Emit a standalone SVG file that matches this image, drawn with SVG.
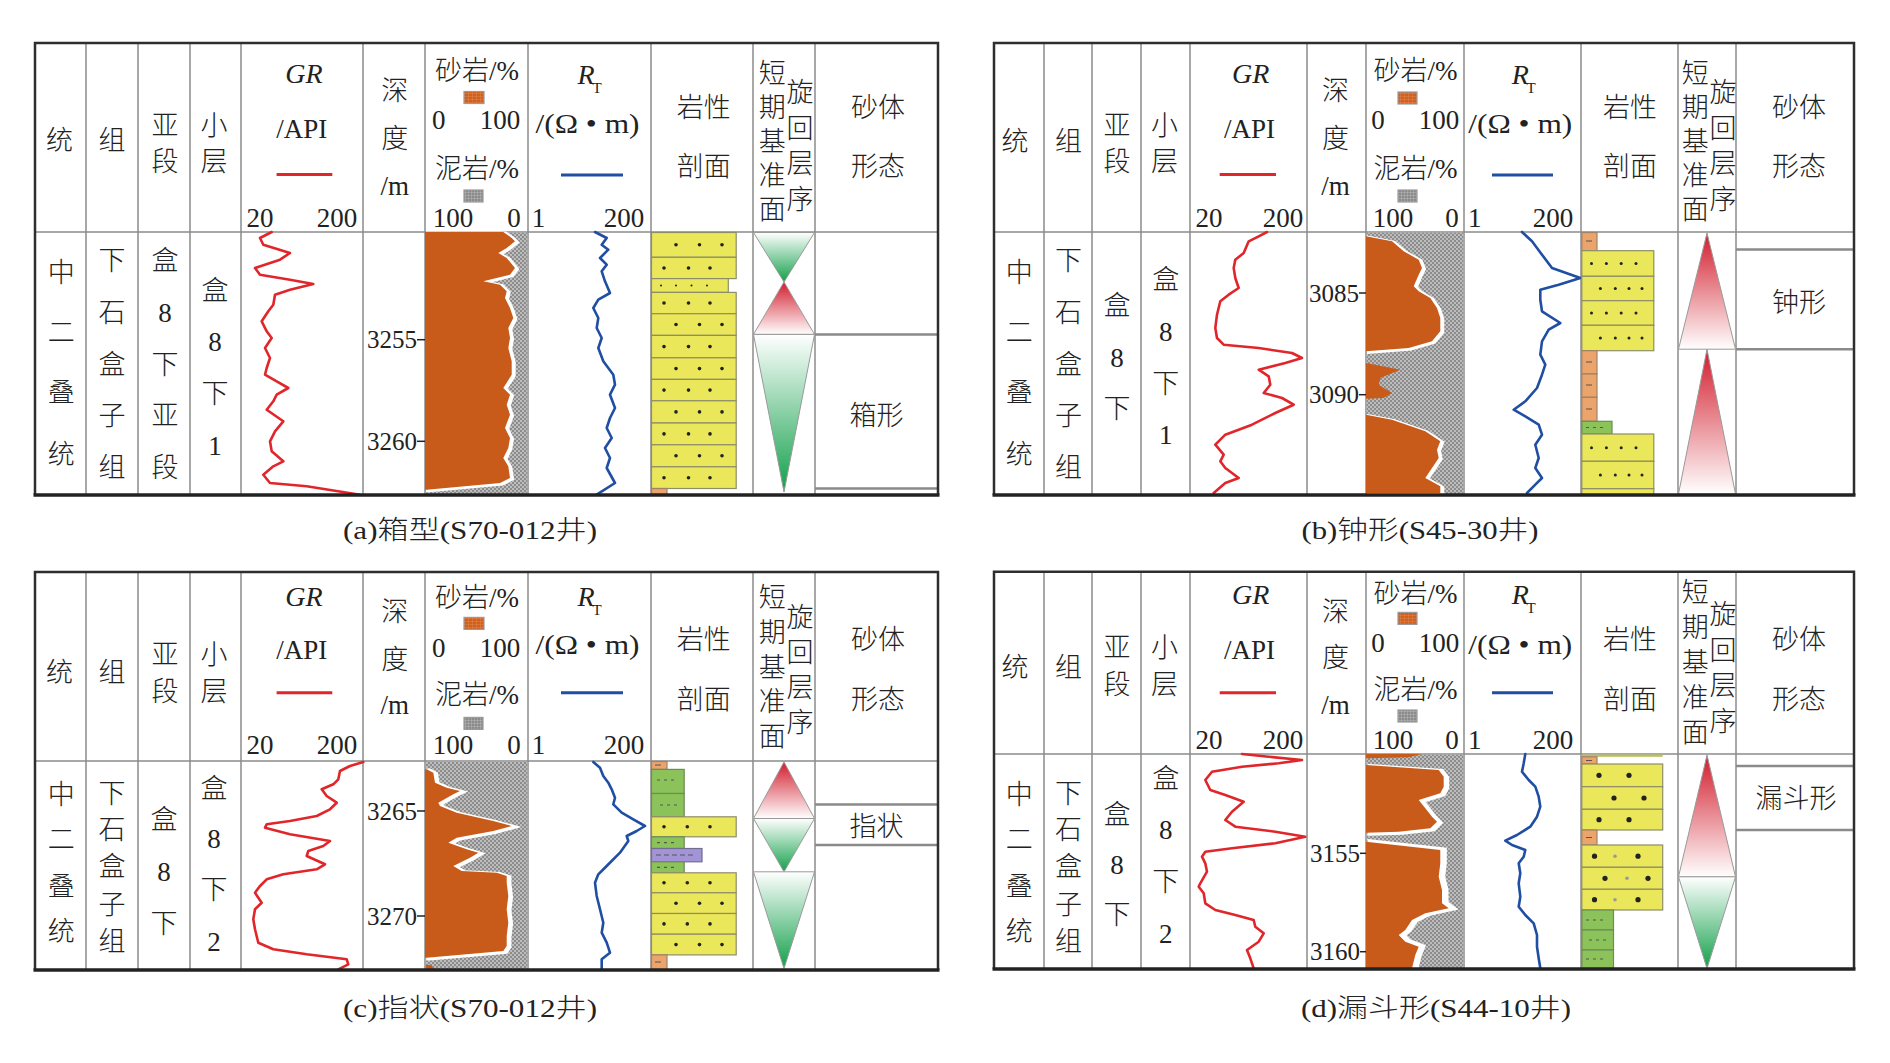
<svg xmlns="http://www.w3.org/2000/svg" xmlns:xlink="http://www.w3.org/1999/xlink" width="1890" height="1063" viewBox="0 0 1890 1063">
<style>
text{font-family:"Liberation Serif","Noto Sans CJK SC",serif;font-size:27px;font-weight:300;fill:#222;text-anchor:middle;dominant-baseline:central}
.it{font-style:italic;font-size:28px}
.sub{font-size:15px}
.dep{font-size:25px;text-anchor:end}
.cap{font-size:26px}
.gl{stroke:#8c8c8c;stroke-width:1.5;fill:none}
.fr{stroke:#2e2e2e;stroke-width:2.5;fill:none}
.fb{stroke:#222;stroke-width:3.5}
.sb{stroke:#8a8a8a;stroke-width:2.5}
.rl{stroke:#e0262a;stroke-width:3}
.bl{stroke:#1f4ea3;stroke-width:3}
.gr{stroke:#e0262a;stroke-width:2.6;fill:none;stroke-linejoin:round;stroke-linecap:round}
.rt{stroke:#1f4ea3;stroke-width:2.6;fill:none;stroke-linejoin:round;stroke-linecap:round}
.tk{stroke:#222;stroke-width:1.5}
.yl{fill:#ebe75a;stroke:#8e8e66;stroke-width:1.2}
.gn{fill:#8cc25a;stroke:#6d8a58;stroke-width:1.2}
.pu{fill:#a294d6;stroke:#6f6f90;stroke-width:1.2}
.om{fill:#eba46b;stroke:#a28264;stroke-width:1.2}
.dt{fill:#222}
.dg{fill:#999}
.mk{stroke:#555;stroke-width:1.2}
.lso{fill:url(#sandp);stroke:#9a9a9a;stroke-width:1.2}
.lsg{fill:url(#mudl);stroke:#9a9a9a;stroke-width:1.2}
.tri{stroke:#9a9a9a;stroke-width:1}
</style>
<defs>
<pattern id="mud" width="4" height="4" patternUnits="userSpaceOnUse"><rect width="4" height="4" fill="#8c8c8c"/><rect width="2" height="2" fill="#bdbdbd"/><rect x="2" y="2" width="2" height="2" fill="#bdbdbd"/></pattern>
<pattern id="sandp" width="4" height="3" patternUnits="userSpaceOnUse"><rect width="4" height="3" fill="#d2601c"/><path d="M0,0H4M0,0V3" stroke="#e39060" stroke-width="0.7"/></pattern>
<pattern id="mudl" width="3" height="3" patternUnits="userSpaceOnUse"><rect width="3" height="3" fill="#8a8a8a"/><path d="M0,0H3M0,0V3" stroke="#c4c4c4" stroke-width="0.8"/></pattern>
<linearGradient id="gDown" x1="0" y1="0" x2="0" y2="1"><stop offset="0" stop-color="#ffffff"/><stop offset="1" stop-color="#12a04a"/></linearGradient>
<linearGradient id="rUp" x1="0" y1="0" x2="0" y2="1"><stop offset="0" stop-color="#d21c2c"/><stop offset="1" stop-color="#ffffff"/></linearGradient>
<polygon id="sa" points="425,232 503.3,232 511.7,238 515,241.3 506.7,248 498.3,253 506.7,258 515,268 510,274.7 483.3,281.3 500,284.7 506.7,291.3 505,298 510,308 513.3,318 508.3,328 510,338 508.3,348 511.7,361.3 511.7,374.7 503.3,388 510,394.7 506.7,404.7 510,414.7 505,428 510,438 508.3,448 503.3,458 508.3,466.3 510,478 500,483 426.7,489.7 425,489.7"/>
<polygon id="sb1" points="1366,236.3 1392,241.3 1403.7,251.3 1418.7,259.7 1422,268 1418.7,274.7 1413.7,286.3 1418.7,291.3 1430.3,298 1437,308 1440.3,318 1440.3,331.3 1432,341.3 1408.7,348 1366,351.3"/>
<polygon id="sb2" points="1366,363 1400.3,369.7 1380.3,378 1378.7,384.7 1392,393 1383.7,398 1366,398.7"/>
<polygon id="sb3" points="1366,414.7 1392,419.7 1425.3,431.3 1440.3,441.3 1437,449.7 1438.7,458 1432,468 1425.3,478 1440.3,486.3 1440.3,493 1366,493"/>
<polygon id="sc" points="425,769.3 426.7,769.3 433.3,772.7 435,782.7 446.7,787.7 460,791 453.3,794.3 438.3,802.7 440,806 456.7,812.7 493.3,821 511.7,826 493.3,831 456.7,837.7 448.3,842.7 466.7,849.3 478.3,852.7 470,857.7 453.3,866 461.7,871 496.7,872.7 506.7,876 506.7,882.7 508.3,896 506.7,909.3 508.3,922.7 506.7,936 506.7,946 503.3,951 426.7,957.7 425,957.7"/>
<polygon id="sd1" points="1366,754 1422,754 1408.7,757.3 1366,758.3"/>
<polygon id="sd2" points="1366,765 1438.7,770 1443.7,776.7 1443.7,786.7 1440.3,793.3 1418.7,800 1425.3,808.3 1432,816.7 1437,821.7 1430.3,828.3 1398.7,831.7 1366,832.7"/>
<polygon id="sd3" points="1366,841.7 1395.3,845 1440.3,850 1440.3,863.3 1438.7,876.7 1442,890 1442,903.3 1448.7,908.3 1425.3,913.3 1412,920 1405.3,930 1398.7,935 1405.3,941.7 1418.7,946.7 1415.3,955 1412,968.3 1366,968.3"/>
</defs>
<rect width="1890" height="1063" fill="#ffffff"/>

<!-- ===================== PANEL A ===================== -->
<g id="panel-a">
<g id="a-grid">
<path class="gl" d="M86,43V495M138,43V495M190,43V495M241,43V495M363,43V495M425,43V495M528,43V495M651,43V495M753,43V495M815,43V495M35,232H938"/>
</g>
<g id="a-header">
<text x="59.4" y="141">统</text><text x="112" y="141">组</text>
<text x="165" y="125.6">亚</text><text x="165" y="161.7">段</text>
<text x="214" y="125.6">小</text><text x="214" y="161.7">层</text>
<text class="it" x="304" y="73">GR</text><text x="301.7" y="129">/API</text>
<line class="rl" x1="276.6" y1="174.4" x2="332.3" y2="174.4"/>
<text x="260" y="218.4">20</text><text x="337" y="218.4">200</text>
<text x="394.7" y="91">深</text><text x="394.7" y="139">度</text><text x="394.7" y="186">/m</text>
<text x="477" y="70.5">砂岩/%</text><rect class="lso" x="464" y="91.5" width="20" height="12"/>
<text x="438.8" y="120.4">0</text><text x="500" y="120.4">100</text>
<text x="477" y="168.6">泥岩/%</text><rect class="lsg" x="464" y="190" width="19" height="12"/>
<text x="453" y="218.4">100</text><text x="514" y="218.4">0</text>
<text class="it" x="586" y="74">R</text><text class="sub" x="597" y="87.5">T</text>
<text x="587.5" y="123.5" textLength="104" lengthAdjust="spacingAndGlyphs">/(Ω • m)</text>
<line class="bl" x1="561" y1="175" x2="623" y2="175"/>
<text x="538.6" y="218">1</text><text x="624" y="218">200</text>
<text x="703.8" y="108.4">岩性</text><text x="703.8" y="166.8">剖面</text>
<text x="772.3" y="74">短</text><text x="772.3" y="108">期</text><text x="772.3" y="142">基</text><text x="772.3" y="176">准</text><text x="772.3" y="210">面</text>
<text x="800" y="93">旋</text><text x="800" y="128.5">回</text><text x="800" y="164">层</text><text x="800" y="199.5">序</text>
<text x="878" y="108.4">砂体</text><text x="878" y="166.8">形态</text>
</g>
<g id="a-strata">
<text x="61.2" y="273">中</text><text x="61.2" y="333">二</text><text x="61.2" y="393">叠</text><text x="61.2" y="455">统</text>
<text x="112" y="261">下</text><text x="112" y="312.5">石</text><text x="112" y="364.5">盒</text><text x="112" y="416">子</text><text x="112" y="467.5">组</text>
<text x="165" y="261.4">盒</text><text x="165" y="313">8</text><text x="165" y="364.6">下</text><text x="165" y="416">亚</text><text x="165" y="468">段</text>
<text x="215" y="290.5">盒</text><text x="215" y="341.7">8</text><text x="215" y="393.5">下</text><text x="215" y="445.5">1</text>
</g>
<g id="a-logs">
<polyline class="gr" points="271.7,232 260,238 263.3,244.7 290,253 280,259.7 255,268 260,274.7 290,279.7 313.3,284 290,289.7 275,294.7 273.3,304.7 268.3,311.3 261.7,321.3 266.7,331.3 271.7,338 265,348 270,358 266.7,368 265,374.7 276.7,381.3 288.3,388 276.7,394.7 273.3,401.3 266.7,409.7 283.3,421.3 275,431.3 270,441.3 271.7,451.3 283.3,461.3 273.3,466.3 263.3,474.7 270,483 306.7,486.3 360,494.7"/>
<text class="dep" x="417" y="339.7">3255</text><line class="tk" x1="417" y1="339.7" x2="425" y2="339.7"/>
<text class="dep" x="417" y="441.3">3260</text><line class="tk" x1="417" y1="441.3" x2="425" y2="441.3"/>
<rect x="425.8" y="232.8" width="101.4" height="261.4" fill="url(#mud)"/>
<use xlink:href="#sa" fill="#ffffff" stroke="#ffffff" stroke-width="3" transform="translate(2.5,1)"/>
<use xlink:href="#sa" fill="#c85a1a"/>
<polyline class="rt" points="595,232 606.7,238 601.7,244.7 608.3,249.7 600,258 606.7,264.7 601.7,271.3 605,281.3 610,293 598.3,299.7 593.3,308 598.3,318 596.7,328 601.7,338 598.3,348 603.3,361.3 613.3,374.7 615,384.7 610,394.7 615,408 610,418 606.7,428 611.7,438 605,448 610,458 606.7,468 615,483 596.7,494.7"/>
</g>
<g id="a-litho">
<rect class="yl" x="651.5" y="232.5" width="84.7" height="24.8"/>
<rect class="yl" x="651.5" y="257.3" width="84.7" height="21.3"/>
<rect class="yl" x="651.5" y="278.6" width="76.8" height="13.8"/>
<rect class="yl" x="651.5" y="292.4" width="84.7" height="21.3"/>
<rect class="yl" x="651.5" y="313.7" width="84.7" height="21.7"/>
<rect class="yl" x="651.5" y="335.4" width="84.7" height="22.4"/>
<rect class="yl" x="651.5" y="357.8" width="84.7" height="21.6"/>
<rect class="yl" x="651.5" y="379.4" width="84.7" height="21.4"/>
<rect class="yl" x="651.5" y="400.8" width="84.7" height="22.2"/>
<rect class="yl" x="651.5" y="423" width="84.7" height="21.8"/>
<rect class="yl" x="651.5" y="444.8" width="84.7" height="22"/>
<rect class="yl" x="651.5" y="466.8" width="84.7" height="21.7"/>
<rect class="om" x="651.5" y="488.5" width="15.5" height="6"/>
<g class="dt">
<circle cx="676" cy="244.7" r="1.8"/><circle cx="699.5" cy="244.7" r="1.8"/><circle cx="722" cy="244.7" r="1.8"/>
<circle cx="664" cy="268" r="1.8"/><circle cx="688.5" cy="268" r="1.8"/><circle cx="710" cy="268" r="1.8"/>
<circle cx="661" cy="285.5" r="1"/><circle cx="676" cy="285.5" r="1"/><circle cx="691.5" cy="285.5" r="1"/><circle cx="707" cy="285.5" r="1"/>
<circle cx="664" cy="303" r="1.8"/><circle cx="688.5" cy="303" r="1.8"/><circle cx="710" cy="303" r="1.8"/>
<circle cx="676" cy="324.5" r="1.8"/><circle cx="699.5" cy="324.5" r="1.8"/><circle cx="722" cy="324.5" r="1.8"/>
<circle cx="664" cy="346.6" r="1.8"/><circle cx="688.5" cy="346.6" r="1.8"/><circle cx="710" cy="346.6" r="1.8"/>
<circle cx="676" cy="368.6" r="1.8"/><circle cx="699.5" cy="368.6" r="1.8"/><circle cx="722" cy="368.6" r="1.8"/>
<circle cx="664" cy="390.1" r="1.8"/><circle cx="688.5" cy="390.1" r="1.8"/><circle cx="710" cy="390.1" r="1.8"/>
<circle cx="676" cy="411.9" r="1.8"/><circle cx="699.5" cy="411.9" r="1.8"/><circle cx="722" cy="411.9" r="1.8"/>
<circle cx="664" cy="433.9" r="1.8"/><circle cx="688.5" cy="433.9" r="1.8"/><circle cx="710" cy="433.9" r="1.8"/>
<circle cx="676" cy="455.8" r="1.8"/><circle cx="699.5" cy="455.8" r="1.8"/><circle cx="722" cy="455.8" r="1.8"/>
<circle cx="664" cy="477.7" r="1.8"/><circle cx="688.5" cy="477.7" r="1.8"/><circle cx="710" cy="477.7" r="1.8"/>
</g>
</g>
<g id="a-cycle">
<polygon class="tri" points="753.5,232.5 814.5,232.5 784,282" fill="url(#gDown)"/>
<polygon class="tri" points="784,282 814.5,334.4 753.5,334.4" fill="url(#rUp)"/>
<polygon class="tri" points="753.5,334.4 814.5,334.4 784,492" fill="url(#gDown)"/>
</g>
<g id="a-shape">
<line class="sb" x1="815" y1="334.4" x2="938" y2="334.4"/>
<line class="sb" x1="815" y1="488.5" x2="938" y2="488.5"/>
<text x="876.4" y="416.2">箱形</text>
</g>
<g id="a-frame">
<path class="fr" d="M35,495V43H938V495"/>
<line class="fb" x1="33.5" y1="495" x2="939.5" y2="495"/>
</g>
<text class="cap" x="470" y="530" textLength="254" lengthAdjust="spacingAndGlyphs">(a)箱型(S70-012井)</text>
</g>

<!-- ===================== PANEL B ===================== -->
<g id="panel-b">
<g id="b-grid">
<path class="gl" d="M1044,43V495M1092,43V495M1141,43V495M1190,43V495M1307,43V495M1366,43V495M1464,43V495M1581,43V495M1678,43V495M1736,43V495M994,232H1854"/>
</g>
<g id="b-header">
<text x="1015" y="142">统</text><text x="1068.5" y="142">组</text>
<text x="1117" y="125.6">亚</text><text x="1117" y="161.7">段</text>
<text x="1164.6" y="125.6">小</text><text x="1164.6" y="161.7">层</text>
<text class="it" x="1250.6" y="73">GR</text><text x="1249.4" y="129">/API</text>
<line class="rl" x1="1219.7" y1="174.4" x2="1276" y2="174.4"/>
<text x="1209" y="218.4">20</text><text x="1283" y="218.4">200</text>
<text x="1335.4" y="91">深</text><text x="1335.4" y="139">度</text><text x="1335.4" y="186">/m</text>
<text x="1415.4" y="70.5">砂岩/%</text><rect class="lso" x="1398" y="92" width="19" height="12"/>
<text x="1378" y="120.4">0</text><text x="1439" y="120.4">100</text>
<text x="1415.4" y="168.6">泥岩/%</text><rect class="lsg" x="1398" y="190" width="19" height="12"/>
<text x="1393" y="218.4">100</text><text x="1452" y="218.4">0</text>
<text class="it" x="1520.4" y="74">R</text><text class="sub" x="1531" y="87.5">T</text>
<text x="1520.3" y="123.5" textLength="104" lengthAdjust="spacingAndGlyphs">/(Ω • m)</text>
<line class="bl" x1="1492" y1="175" x2="1553" y2="175"/>
<text x="1474.7" y="218">1</text><text x="1553" y="218">200</text>
<text x="1630" y="108.4">岩性</text><text x="1630" y="166.8">剖面</text>
<text x="1695.3" y="74">短</text><text x="1695.3" y="108">期</text><text x="1695.3" y="142">基</text><text x="1695.3" y="176">准</text><text x="1695.3" y="210">面</text>
<text x="1723" y="93">旋</text><text x="1723" y="128.5">回</text><text x="1723" y="164">层</text><text x="1723" y="199.5">序</text>
<text x="1799" y="108.4">砂体</text><text x="1799" y="166.8">形态</text>
</g>
<g id="b-strata">
<text x="1019.3" y="273">中</text><text x="1019.3" y="333">二</text><text x="1019.3" y="393">叠</text><text x="1019.3" y="455">统</text>
<text x="1068.5" y="261">下</text><text x="1068.5" y="312.5">石</text><text x="1068.5" y="364.5">盒</text><text x="1068.5" y="416">子</text><text x="1068.5" y="467.5">组</text>
<text x="1117" y="306">盒</text><text x="1117" y="357.8">8</text><text x="1117" y="409.4">下</text>
<text x="1165.8" y="280.4">盒</text><text x="1165.8" y="332">8</text><text x="1165.8" y="383.6">下</text><text x="1165.8" y="435">1</text>
</g>
<g id="b-logs">
<polyline class="gr" points="1267,232 1258.7,236.3 1248.7,241.3 1243.7,253 1235.3,259.7 1233.7,268 1235.3,278 1238.7,288 1228.7,294.7 1220.3,301.3 1217,314.7 1215.3,328 1217,338 1223.7,344.7 1258.7,348 1292,353 1302,358 1285.3,363 1258.7,369.7 1268.7,376.3 1270.3,384.7 1263.7,393 1282,398 1293.7,404.7 1275.3,413 1252,424.7 1225.3,434.7 1215.3,444.7 1223.7,454.7 1220.3,461.3 1225.3,468 1238.7,478 1225.3,483 1213.7,493"/>
<text class="dep" x="1359" y="293">3085</text><line class="tk" x1="1359" y1="293" x2="1366" y2="293"/>
<text class="dep" x="1359" y="394.7">3090</text><line class="tk" x1="1359" y1="394.7" x2="1366" y2="394.7"/>
<rect x="1366.8" y="232.8" width="96.4" height="261.4" fill="url(#mud)"/>
<use xlink:href="#sb1" fill="#ffffff" stroke="#ffffff" stroke-width="3" transform="translate(2.5,1)"/>
<use xlink:href="#sb3" fill="#ffffff" stroke="#ffffff" stroke-width="3" transform="translate(2.5,1)"/>
<use xlink:href="#sb1" fill="#c85a1a"/>
<use xlink:href="#sb2" fill="#c85a1a"/>
<use xlink:href="#sb3" fill="#c85a1a"/>
<polyline class="rt" points="1522,232 1532,241.3 1542,254.7 1552,268 1580.3,278 1558.7,284.7 1540.3,289.7 1540.3,299.7 1542,311.3 1560.3,323 1548.7,329.7 1542,341.3 1540.3,354.7 1545.3,364.7 1542,374.7 1537,388 1525.3,401.3 1513.7,409.7 1525.3,416.3 1538.7,424.7 1542,434.7 1535.3,444.7 1538.7,458 1535.3,468 1542,478 1535.3,484.7 1527,493"/>
</g>
<g id="b-litho">
<rect class="om" x="1581.8" y="232.5" width="15.2" height="18.2"/>
<rect class="yl" x="1581.8" y="250.7" width="72" height="25.6"/>
<rect class="yl" x="1581.8" y="276.3" width="72" height="24.4"/>
<rect class="yl" x="1581.8" y="300.7" width="72" height="24.6"/>
<rect class="yl" x="1581.8" y="325.3" width="72" height="25.4"/>
<rect class="om" x="1581.8" y="350.7" width="15.2" height="23.3"/>
<rect class="om" x="1581.8" y="374" width="15.2" height="23.3"/>
<rect class="om" x="1581.8" y="397.3" width="15.2" height="24"/>
<rect class="gn" x="1581.8" y="421.3" width="30.2" height="12.7"/>
<rect class="yl" x="1581.8" y="434" width="72" height="27.3"/>
<rect class="yl" x="1581.8" y="461.3" width="72" height="27.4"/>
<rect class="yl" x="1581.8" y="488.7" width="72" height="6"/>
<path class="mk" d="M1586,241H1592M1586,362H1592M1586,385H1592M1586,409H1592M1586,427.5H1589M1593,427.5H1596M1600,427.5H1603"/>
<g class="dt">
<circle cx="1591.5" cy="263.5" r="1.5"/><circle cx="1606.4" cy="263.5" r="1.5"/><circle cx="1621.2" cy="263.5" r="1.5"/><circle cx="1636" cy="263.5" r="1.5"/>
<circle cx="1600.4" cy="288.5" r="1.5"/><circle cx="1615.3" cy="288.5" r="1.5"/><circle cx="1629" cy="288.5" r="1.5"/><circle cx="1642" cy="288.5" r="1.5"/>
<circle cx="1591.5" cy="313" r="1.5"/><circle cx="1606.4" cy="313" r="1.5"/><circle cx="1621.2" cy="313" r="1.5"/><circle cx="1636" cy="313" r="1.5"/>
<circle cx="1600.4" cy="338" r="1.5"/><circle cx="1615.3" cy="338" r="1.5"/><circle cx="1629" cy="338" r="1.5"/><circle cx="1642" cy="338" r="1.5"/>
<circle cx="1591.5" cy="447.7" r="1.5"/><circle cx="1606.4" cy="447.7" r="1.5"/><circle cx="1621.2" cy="447.7" r="1.5"/><circle cx="1636" cy="447.7" r="1.5"/>
<circle cx="1600.4" cy="475" r="1.5"/><circle cx="1615.3" cy="475" r="1.5"/><circle cx="1629" cy="475" r="1.5"/><circle cx="1642" cy="475" r="1.5"/>
</g>
</g>
<g id="b-cycle">
<polygon class="tri" points="1707,233 1735.5,349.2 1678.5,349.2" fill="url(#rUp)"/>
<polygon class="tri" points="1707,349.2 1735.5,494 1678.5,494" fill="url(#rUp)"/>
</g>
<g id="b-shape">
<line class="sb" x1="1736" y1="249.4" x2="1854" y2="249.4"/>
<line class="sb" x1="1736" y1="349.2" x2="1854" y2="349.2"/>
<text x="1799" y="302.7">钟形</text>
</g>
<g id="b-frame">
<path class="fr" d="M994,495V43H1854V495"/>
<line class="fb" x1="992.5" y1="495" x2="1855.5" y2="495"/>
</g>
<text class="cap" x="1420" y="530" textLength="237" lengthAdjust="spacingAndGlyphs">(b)钟形(S45-30井)</text>
</g>

<!-- ===================== PANEL C ===================== -->
<g id="panel-c">
<g id="c-grid">
<path class="gl" d="M86,572V970M138,572V970M190,572V970M241,572V970M363,572V970M425,572V970M528,572V970M651,572V970M753,572V970M815,572V970M35,761H938"/>
</g>
<g id="c-header">
<text x="59.4" y="673.4">统</text><text x="112" y="673.4">组</text>
<text x="165" y="655">亚</text><text x="165" y="691.7">段</text>
<text x="214" y="655">小</text><text x="214" y="691.7">层</text>
<text class="it" x="304" y="596">GR</text><text x="301.7" y="650">/API</text>
<line class="rl" x1="276.6" y1="692.7" x2="332.3" y2="692.7"/>
<text x="260" y="745">20</text><text x="337" y="745">200</text>
<text x="394.7" y="611.7">深</text><text x="394.7" y="660">度</text><text x="394.7" y="705">/m</text>
<text x="477" y="598.4">砂岩/%</text><rect class="lso" x="464" y="617.4" width="20" height="12"/>
<text x="438.8" y="648.4">0</text><text x="500" y="648.4">100</text>
<text x="477" y="695">泥岩/%</text><rect class="lsg" x="464" y="717.4" width="19" height="12"/>
<text x="453" y="745">100</text><text x="514" y="745">0</text>
<text class="it" x="586" y="596">R</text><text class="sub" x="597" y="609.5">T</text>
<text x="587.5" y="645" textLength="104" lengthAdjust="spacingAndGlyphs">/(Ω • m)</text>
<line class="bl" x1="561" y1="692.7" x2="623" y2="692.7"/>
<text x="538.6" y="745">1</text><text x="624" y="745">200</text>
<text x="703.8" y="640">岩性</text><text x="703.8" y="700">剖面</text>
<text x="772.3" y="598.4">短</text><text x="772.3" y="633">期</text><text x="772.3" y="667.6">基</text><text x="772.3" y="702.2">准</text><text x="772.3" y="736.8">面</text>
<text x="800" y="618.4">旋</text><text x="800" y="653.4">回</text><text x="800" y="688.4">层</text><text x="800" y="723.4">序</text>
<text x="878" y="640">砂体</text><text x="878" y="700">形态</text>
</g>
<g id="c-strata">
<text x="61.2" y="795">中</text><text x="61.2" y="840">二</text><text x="61.2" y="886.8">叠</text><text x="61.2" y="931.9">统</text>
<text x="112" y="793.5">下</text><text x="112" y="830">石</text><text x="112" y="866.8">盒</text><text x="112" y="905">子</text><text x="112" y="941.9">组</text>
<text x="164" y="820">盒</text><text x="164" y="871.8">8</text><text x="164" y="923.5">下</text>
<text x="214" y="788.5">盒</text><text x="214" y="838.5">8</text><text x="214" y="890">下</text><text x="214" y="941.9">2</text>
</g>
<g id="c-logs">
<polyline class="gr" points="363.3,762 350,766 340,771 338.3,779.3 333.3,784.3 321.7,789.3 326.7,796 336.7,802.7 330,809.3 316.7,816 290,821 266.7,824.3 265,827.7 290,834.3 330,841 323.3,846 308.3,851 306.7,856 325,864.3 316.7,869.3 283.3,874.3 266.7,879.3 260,886 255,892.7 258.3,897.7 261.7,902.7 255,909.3 253.3,919.3 255,929.3 258.3,942.7 273.3,949.3 306.7,954.3 346.7,959.3 348.3,964.3 338.3,969.3"/>
<text class="dep" x="417" y="811">3265</text><line class="tk" x1="417" y1="811" x2="425" y2="811"/>
<text class="dep" x="417" y="916">3270</text><line class="tk" x1="417" y1="916" x2="425" y2="916"/>
<rect x="425.8" y="761.8" width="101.4" height="207.4" fill="url(#mud)"/>
<use xlink:href="#sc" fill="#ffffff" stroke="#ffffff" stroke-width="3.5" transform="translate(3,1)"/>
<use xlink:href="#sc" fill="#c85a1a"/>
<polygon points="425.8,965 431,965 434,969 425.8,969" fill="#c85a1a"/>
<polyline class="rt" points="593.3,762 600,767.7 603.3,776 608.3,782.7 611.7,789.3 615,797.7 613.3,804.3 621.7,812.7 633.3,819.3 645,826 636.7,831 626.7,836 628.3,841 620,852.7 606.7,866 598.3,874.3 595,882.7 596.7,896 600,909.3 603.3,922.7 601.7,932.7 606.7,942.7 610,952.7 601.7,959.3 601.7,969.3"/>
</g>
<g id="c-litho">
<rect class="om" x="651.5" y="761.5" width="15.5" height="7.9"/>
<rect class="gn" x="651.5" y="769.4" width="32.7" height="24.1"/>
<rect class="gn" x="651.5" y="793.5" width="32.7" height="23.3"/>
<rect class="yl" x="651.5" y="816.8" width="84.7" height="20"/>
<rect class="gn" x="651.5" y="836.8" width="32.7" height="11.7"/>
<rect class="pu" x="651.5" y="848.5" width="50.5" height="13.3"/>
<rect class="gn" x="651.5" y="861.8" width="32.7" height="11"/>
<rect class="yl" x="651.5" y="872.8" width="84.7" height="20"/>
<rect class="yl" x="651.5" y="892.8" width="84.7" height="20.7"/>
<rect class="yl" x="651.5" y="913.5" width="84.7" height="20.7"/>
<rect class="yl" x="651.5" y="934.2" width="84.7" height="20.7"/>
<rect class="om" x="651.5" y="954.9" width="15.5" height="15"/>
<path class="mk" d="M657,780H660M664,780H667M671,780H674M660,805H663M667,805H670M674,805H677M657,842.6H660M664,842.6H667M671,842.6H674M656,855H661M664,855H669M672,855H677M680,855H685M688,855H693M657,867.3H660M664,867.3H667M671,867.3H674M655,765H661M655,962H661"/>
<g class="dt">
<circle cx="664" cy="826.8" r="1.8"/><circle cx="687.3" cy="826.8" r="1.8"/><circle cx="710" cy="826.8" r="1.8"/>
<circle cx="664" cy="882.8" r="1.8"/><circle cx="687.3" cy="882.8" r="1.8"/><circle cx="710" cy="882.8" r="1.8"/>
<circle cx="676" cy="903.2" r="1.8"/><circle cx="699.5" cy="903.2" r="1.8"/><circle cx="722" cy="903.2" r="1.8"/>
<circle cx="664" cy="923.9" r="1.8"/><circle cx="687.3" cy="923.9" r="1.8"/><circle cx="710" cy="923.9" r="1.8"/>
<circle cx="676" cy="944.6" r="1.8"/><circle cx="699.5" cy="944.6" r="1.8"/><circle cx="722" cy="944.6" r="1.8"/>
</g>
</g>
<g id="c-cycle">
<polygon class="tri" points="784,762 814.5,818.5 753.5,818.5" fill="url(#rUp)"/>
<polygon class="tri" points="753.5,818.5 814.5,818.5 784,871.8" fill="url(#gDown)"/>
<polygon class="tri" points="753.5,871.8 814.5,871.8 784,968.5" fill="url(#gDown)"/>
</g>
<g id="c-shape">
<line class="sb" x1="815" y1="804.5" x2="938" y2="804.5"/>
<line class="sb" x1="815" y1="845" x2="938" y2="845"/>
<text x="876.4" y="826.8">指状</text>
</g>
<g id="c-frame">
<path class="fr" d="M35,970V572H938V970"/>
<line class="fb" x1="33.5" y1="970" x2="939.5" y2="970"/>
</g>
<text class="cap" x="470" y="1008.6" textLength="254" lengthAdjust="spacingAndGlyphs">(c)指状(S70-012井)</text>
</g>

<!-- ===================== PANEL D ===================== -->
<g id="panel-d">
<g id="d-grid">
<path class="gl" d="M1044,571.7V969M1092,571.7V969M1141,571.7V969M1190,571.7V969M1307,571.7V969M1366,571.7V969M1464,571.7V969M1581,571.7V969M1678,571.7V969M1736,571.7V969M994,754H1854"/>
</g>
<g id="d-header">
<text x="1015" y="668.4">统</text><text x="1068.5" y="668.4">组</text>
<text x="1117" y="648.4">亚</text><text x="1117" y="685">段</text>
<text x="1164.6" y="648.4">小</text><text x="1164.6" y="685">层</text>
<text class="it" x="1250.6" y="594">GR</text><text x="1249.4" y="650">/API</text>
<line class="rl" x1="1219.7" y1="692.7" x2="1276" y2="692.7"/>
<text x="1209" y="740">20</text><text x="1283" y="740">200</text>
<text x="1335.4" y="611.7">深</text><text x="1335.4" y="658.4">度</text><text x="1335.4" y="705">/m</text>
<text x="1415.4" y="594">砂岩/%</text><rect class="lso" x="1398" y="612.4" width="19" height="12"/>
<text x="1378" y="643">0</text><text x="1439" y="643">100</text>
<text x="1415.4" y="690">泥岩/%</text><rect class="lsg" x="1398" y="710" width="19" height="12"/>
<text x="1393" y="740">100</text><text x="1452" y="740">0</text>
<text class="it" x="1520.4" y="594">R</text><text class="sub" x="1531" y="607.5">T</text>
<text x="1520.3" y="645" textLength="104" lengthAdjust="spacingAndGlyphs">/(Ω • m)</text>
<line class="bl" x1="1492" y1="692.7" x2="1553" y2="692.7"/>
<text x="1474.7" y="740">1</text><text x="1553" y="740">200</text>
<text x="1630" y="640">岩性</text><text x="1630" y="700">剖面</text>
<text x="1695.3" y="593.4">短</text><text x="1695.3" y="628.4">期</text><text x="1695.3" y="663.4">基</text><text x="1695.3" y="698.4">准</text><text x="1695.3" y="733.4">面</text>
<text x="1723" y="615">旋</text><text x="1723" y="650.6">回</text><text x="1723" y="686.2">层</text><text x="1723" y="721.8">序</text>
<text x="1799" y="640">砂体</text><text x="1799" y="700">形态</text>
</g>
<g id="d-strata">
<text x="1019.3" y="795">中</text><text x="1019.3" y="840">二</text><text x="1019.3" y="886.8">叠</text><text x="1019.3" y="931.9">统</text>
<text x="1068.5" y="793.5">下</text><text x="1068.5" y="830">石</text><text x="1068.5" y="866.8">盒</text><text x="1068.5" y="905">子</text><text x="1068.5" y="941.9">组</text>
<text x="1117" y="815">盒</text><text x="1117" y="865">8</text><text x="1117" y="915">下</text>
<text x="1165.8" y="778.5">盒</text><text x="1165.8" y="830">8</text><text x="1165.8" y="881.8">下</text><text x="1165.8" y="933.5">2</text>
</g>
<g id="d-logs">
<polyline class="gr" points="1242,754 1268.7,756.7 1302,760 1278.7,763.3 1242,766.7 1212,771.7 1205.3,780 1210.3,790 1225.3,795 1243.7,801.7 1232,811.7 1225.3,820 1235.3,826.7 1275.3,831.7 1305.3,836.7 1275.3,843.3 1232,848.3 1205.3,851.7 1202,856.7 1205.3,863.3 1207,871.7 1200.3,883.3 1198.7,886.7 1203.7,893.3 1205.3,903.3 1215.3,910 1235.3,915 1253.7,920 1255.3,926.7 1263.7,933.3 1258.7,941.7 1247,950 1250.3,958.3 1253.7,968.3"/>
<text class="dep" x="1360" y="853.3">3155</text><line class="tk" x1="1360" y1="853.3" x2="1366" y2="853.3"/>
<text class="dep" x="1360" y="951.7">3160</text><line class="tk" x1="1360" y1="951.7" x2="1366" y2="951.7"/>
<rect x="1366.8" y="754.8" width="96.4" height="213.4" fill="url(#mud)"/>
<use xlink:href="#sd2" fill="#ffffff" stroke="#ffffff" stroke-width="4" transform="translate(3.5,1)"/>
<use xlink:href="#sd3" fill="#ffffff" stroke="#ffffff" stroke-width="5" transform="translate(4,0)"/>
<use xlink:href="#sd1" fill="#c85a1a"/>
<use xlink:href="#sd2" fill="#c85a1a"/>
<use xlink:href="#sd3" fill="#c85a1a"/>
<polyline class="rt" points="1525.3,754 1523.7,763.3 1522,771.7 1528.7,780 1535.3,786.7 1538.7,796.7 1540.3,806.7 1537,816.7 1530.3,826.7 1517,835 1505.3,840.7 1512,845 1525.3,850 1523.7,856.7 1518.7,863.3 1520.3,873.3 1518.7,883.3 1520.3,896.7 1518.7,906.7 1525.3,915 1533.7,923.3 1537,935 1537,946.7 1538.7,958.3 1540.3,968.3"/>
</g>
<g id="d-litho">
<rect x="1581.8" y="754.6" width="80.9" height="2.2" fill="#b8c450"/>
<rect class="om" x="1581.8" y="756.8" width="15.2" height="7.2"/>
<rect class="yl" x="1581.8" y="764" width="80.9" height="22.7"/>
<rect class="yl" x="1581.8" y="786.7" width="80.9" height="22.6"/>
<rect class="yl" x="1581.8" y="809.3" width="80.9" height="20.7"/>
<rect class="om" x="1581.8" y="830" width="15.2" height="15"/>
<rect class="yl" x="1581.8" y="845" width="80.9" height="22.3"/>
<rect class="yl" x="1581.8" y="867.3" width="80.9" height="22"/>
<rect class="yl" x="1581.8" y="889.3" width="80.9" height="20.7"/>
<rect class="gn" x="1581.8" y="910" width="31.7" height="20"/>
<rect class="gn" x="1581.8" y="930" width="31.7" height="20"/>
<rect class="gn" x="1581.8" y="950" width="31.7" height="18.5"/>
<path class="mk" d="M1586,760.5H1592M1586,837.5H1592M1586,920H1589M1593,920H1596M1600,920H1603M1589,940H1592M1596,940H1599M1603,940H1606M1586,959H1589M1593,959H1596M1600,959H1603"/>
<g class="dt">
<circle cx="1599" cy="775.3" r="2.6"/><circle cx="1629" cy="775.3" r="2.6"/>
<circle cx="1614" cy="798" r="2.6"/><circle cx="1644" cy="798" r="2.6"/>
<circle cx="1599" cy="819.7" r="2.6"/><circle cx="1629" cy="819.7" r="2.6"/>
<circle cx="1594.5" cy="856.2" r="2.6"/><circle cx="1638" cy="856.2" r="2.6"/>
<circle cx="1605" cy="878.3" r="2.6"/><circle cx="1648" cy="878.3" r="2.6"/>
<circle cx="1594.5" cy="899.7" r="2.6"/><circle cx="1638" cy="899.7" r="2.6"/>
</g>
<g class="dg">
<circle cx="1615" cy="856.2" r="1.8"/><circle cx="1627" cy="878.3" r="1.8"/><circle cx="1615" cy="899.7" r="1.8"/>
</g>
</g>
<g id="d-cycle">
<polygon class="tri" points="1707,755 1735.5,876.8 1678.5,876.8" fill="url(#rUp)"/>
<polygon class="tri" points="1678.5,876.8 1735.5,876.8 1707,968.5" fill="url(#gDown)"/>
</g>
<g id="d-shape">
<line class="sb" x1="1736" y1="766" x2="1854" y2="766"/>
<line class="sb" x1="1736" y1="830" x2="1854" y2="830"/>
<text x="1796" y="799">漏斗形</text>
</g>
<g id="d-frame">
<path class="fr" d="M994,969V571.7H1854V969"/>
<line class="fb" x1="992.5" y1="969" x2="1855.5" y2="969"/>
</g>
<text class="cap" x="1436" y="1008.6" textLength="270" lengthAdjust="spacingAndGlyphs">(d)漏斗形(S44-10井)</text>
</g>
</svg>
